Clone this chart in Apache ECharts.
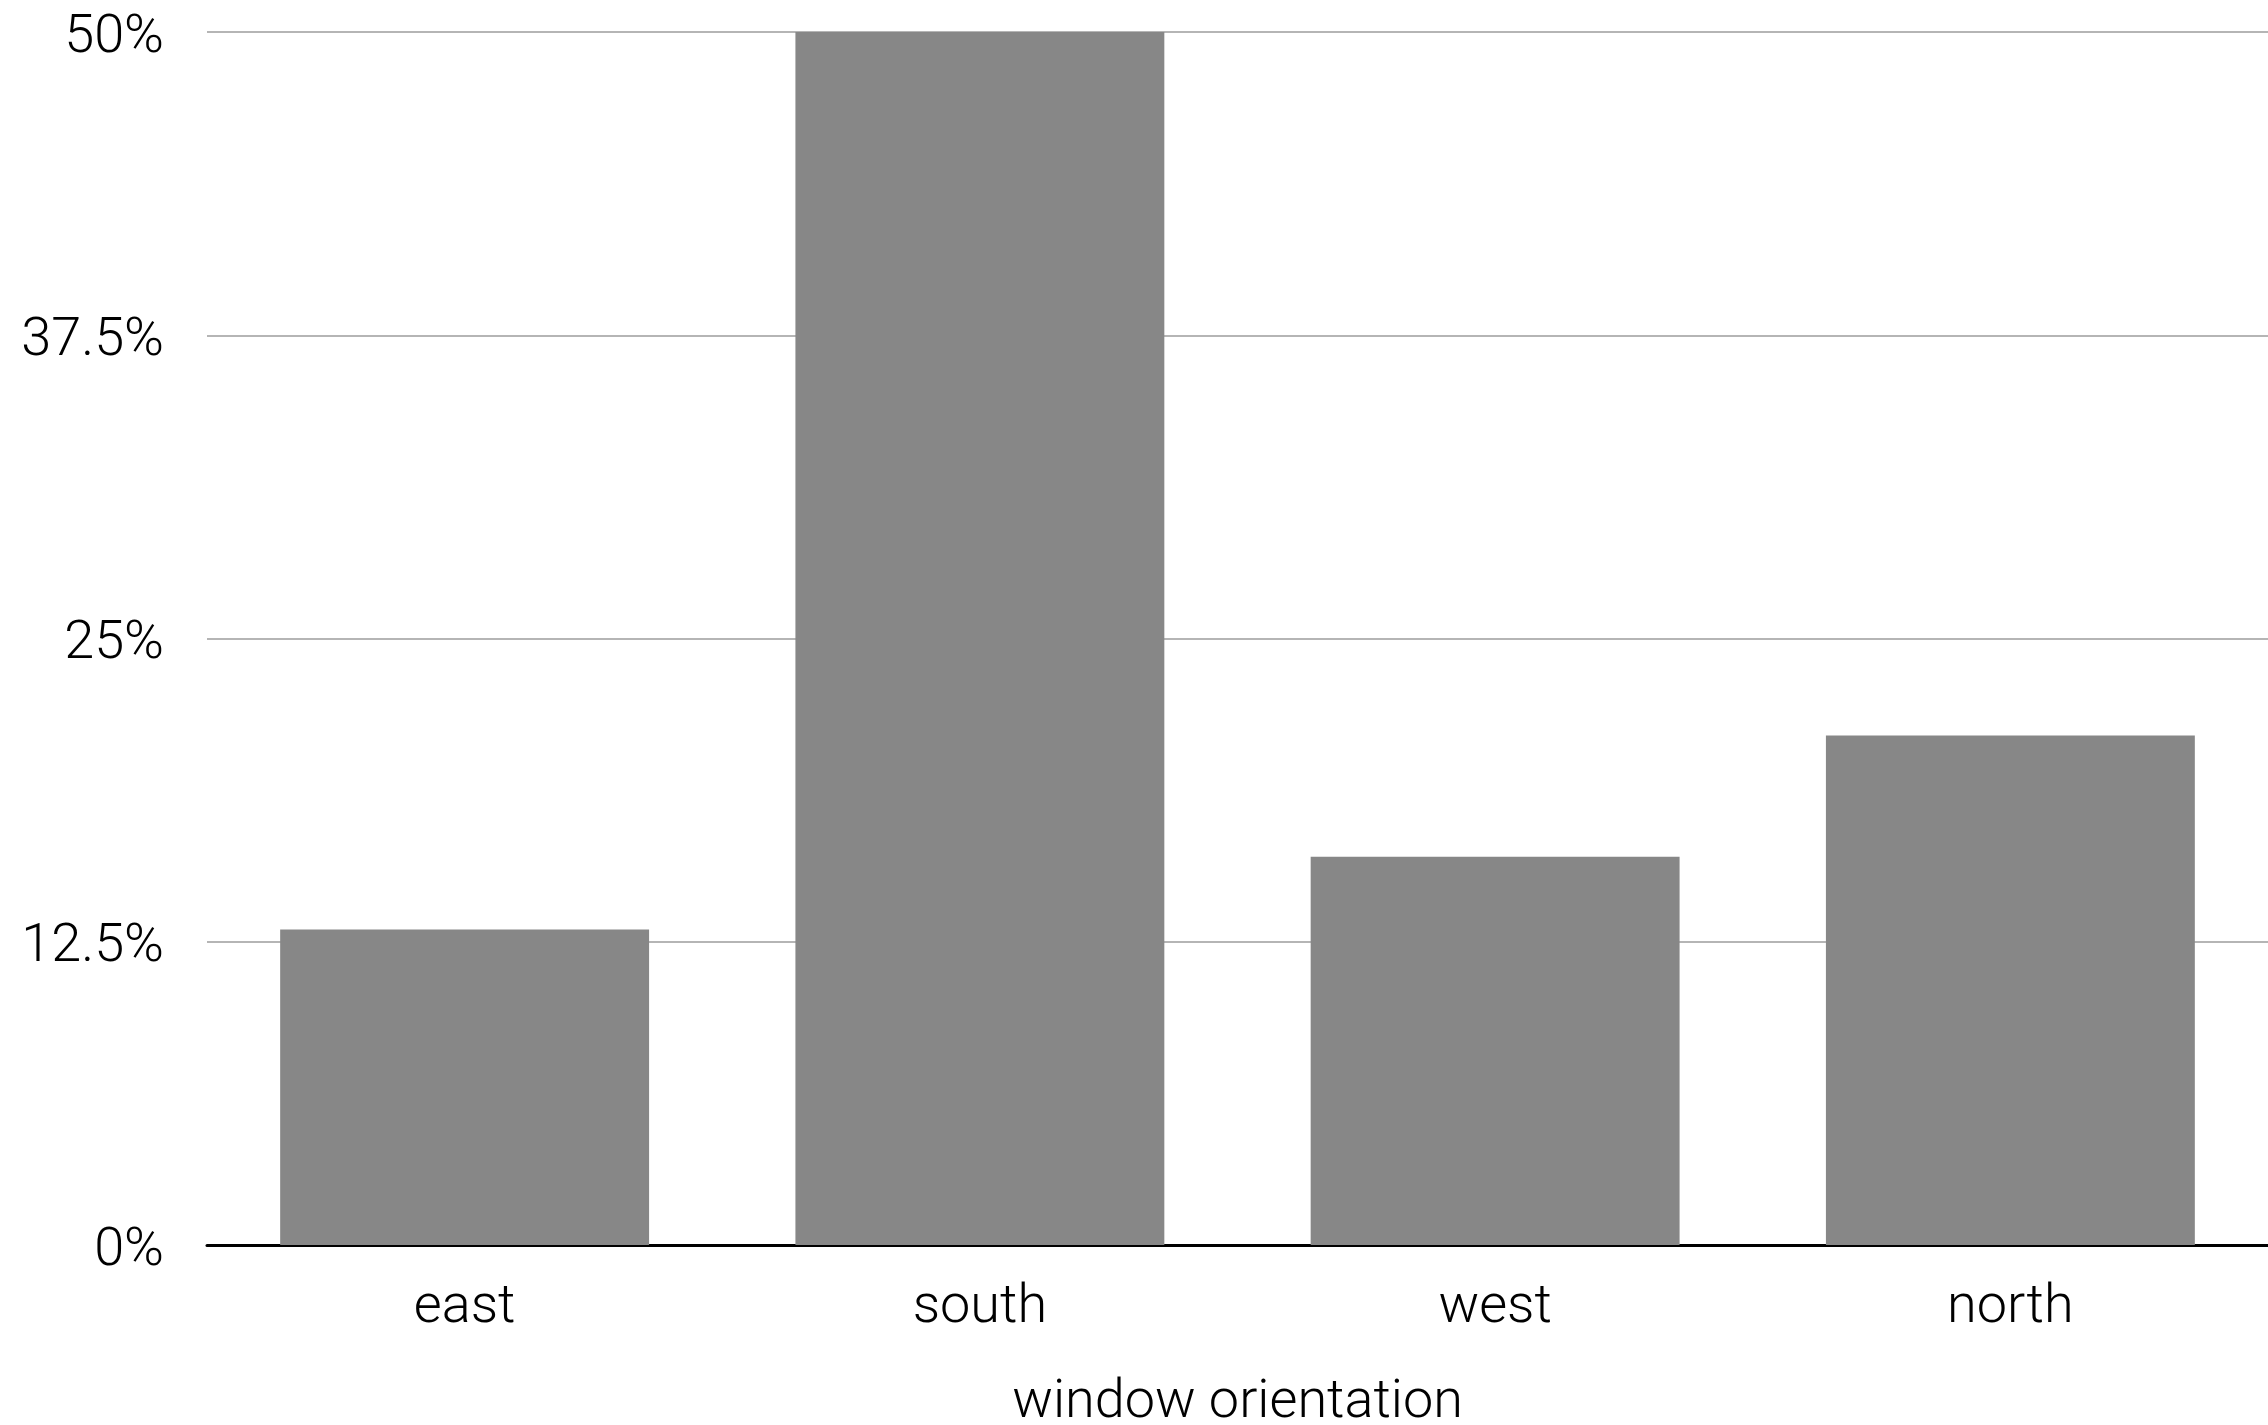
<!DOCTYPE html>
<html>
<head>
<meta charset="utf-8">
<script src="https://cdn.jsdelivr.net/npm/echarts@6/dist/echarts.min.js"></script>
<style>
html,body{margin:0;padding:0;background:#fff;overflow:hidden;}
#chart{position:absolute;left:0;top:0;width:2268px;height:1425px;}
</style>
</head>
<body>
<div id="chart"></div>
<script>
const categories = ['east', 'south', 'west', 'north'];
const shares = [13, 50, 16, 21];
const yTickValues = [0, 12.5, 25, 37.5, 50];
const xAxisTitle = 'window orientation';

const FONT = 'Roboto, "Liberation Sans", Helvetica, Arial, sans-serif';
const WEIGHT = 300;
const chart = echarts.init(document.getElementById('chart'), null, {renderer: 'canvas'});
chart.setOption({
  animation: false,
  backgroundColor: '#ffffff',
  grid: {left: 207, right: 0, top: 32, bottom: 180, containLabel: false, outerBoundsMode: 'none'},
  xAxis: {
    type: 'category',
    data: categories,
    name: xAxisTitle,
    nameLocation: 'middle',
    nameGap: 131,
    nameTextStyle: {fontFamily: FONT, fontSize: 54, color: '#000', fontWeight: WEIGHT},
    axisLine: {show: true, lineStyle: {color: '#000', width: 3}},
    axisTick: {show: false},
    axisLabel: {fontFamily: FONT, fontSize: 54, color: '#000', fontWeight: WEIGHT, margin: 36}
  },
  yAxis: {
    type: 'value',
    min: yTickValues[0],
    max: yTickValues[yTickValues.length - 1],
    interval: yTickValues[1] - yTickValues[0],
    axisLine: {show: false},
    axisTick: {show: false},
    axisLabel: {fontFamily: FONT, fontSize: 54, color: '#000', fontWeight: WEIGHT, margin: 43,
      verticalAlign: 'top', lineHeight: 12, formatter: v => v + '%'},
    splitLine: {show: true, lineStyle: {color: '#b5b5b5', width: 2}}
  },
  series: [{
    type: 'bar',
    data: shares,
    barCategoryGap: '28.4%',
    itemStyle: {color: '#878787'}
  }]
});
</script>
</body>
</html>
